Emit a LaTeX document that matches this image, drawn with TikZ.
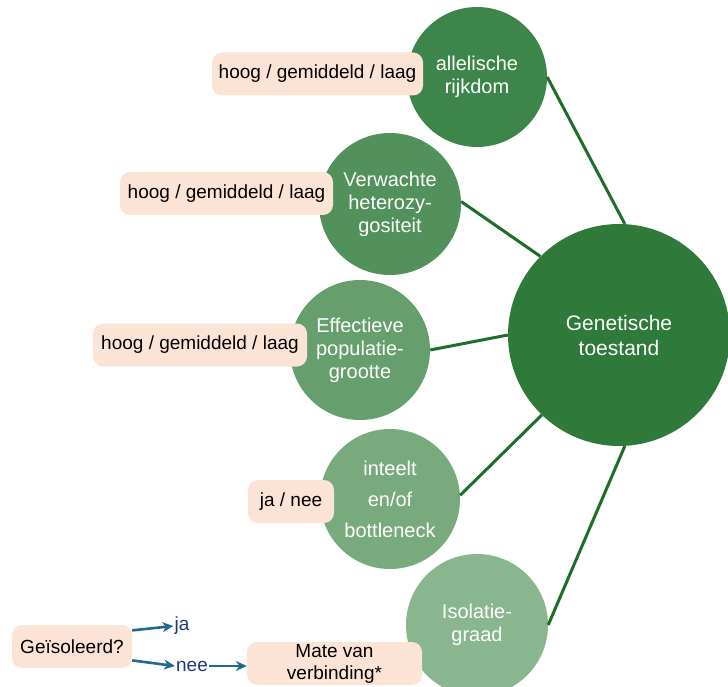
\documentclass[tikz,border=0pt]{standalone}
\usepackage{fontspec}
\setmainfont{Liberation Sans}
\usetikzlibrary{positioning, arrows.meta}

\definecolor{gendark}{RGB}{47,121,58}
\definecolor{genone}{RGB}{62,133,75}
\definecolor{gentwo}{RGB}{82,145,92}
\definecolor{genthree}{RGB}{103,158,110}
\definecolor{genfour}{RGB}{120,170,126}
\definecolor{genfive}{RGB}{138,182,143}
\definecolor{linkgreen}{RGB}{30,110,42}
\definecolor{peach}{RGB}{251,227,214}
\definecolor{arrowteal}{RGB}{31,105,140}
\definecolor{answerblue}{RGB}{32,56,120}

\begin{document}
\begin{tikzpicture}[
    x=1pt, y=-1pt,
    % Indicator circles
    indicator/.style={circle, minimum size=#1, inner sep=0pt, text=white, align=center,
        font=\fontsize{20}{23}\selectfont},
    % Score boxes
    scorebox/.style={rectangle, rounded corners=10pt, fill=peach, inner sep=0pt,
        minimum height=43pt, align=center, font=\fontsize{19}{22}\selectfont},
    % Connection style
    link/.style={line width=3pt, color=linkgreen},
    decision/.style={-{Stealth[length=11pt, width=10pt]}, line width=2.6pt, color=arrowteal},
    answer/.style={inner sep=1pt, text=answerblue, font=\fontsize{19}{22}\selectfont}
]
    \useasboundingbox (0,0) rectangle (728,687);

    % --- CENTRAL NODE ---
    \node[indicator=222pt, fill=gendark, font=\fontsize{21}{25}\selectfont] (gen) at (619,335) {Genetische\\toestand};

    % --- INDICATORS ---
    \node[indicator=140pt, fill=genone] (allel) at (477,77) {allelische\\rijkdom};
    \node[indicator=142pt, fill=gentwo] (hetero) at (390,204) {Verwachte\\heterozy-\\gositeit};
    \node[indicator=140pt, fill=genthree] (popul) at (360,350) {Effectieve\\populatie-\\grootte};
    \node[indicator=140pt, fill=genfour, font=\fontsize{20}{31}\selectfont] (inteelt) at (390,499) {inteelt\\en/of\\bottleneck};
    \node[indicator=142pt, fill=genfive] (isol) at (477,625) {Isolatie-\\graad};

    % Connections indicators -> central node
    \draw[link] (allel.east) -- (gen.87);
    \draw[link] (hetero.2) -- (gen.135);
    \draw[link] (popul.east) -- (gen.180);
    \draw[link] (inteelt.3) -- (gen.226);
    \draw[link] (isol.east) -- (gen.273);

    % --- SCORE BOXES ---
    \node[scorebox, minimum width=211pt] (allelscore) at (317.5,74) {hoog / gemiddeld / laag};
    \node[scorebox, minimum width=213pt] (heteroscore) at (226.5,193.5) {hoog / gemiddeld / laag};
    \node[scorebox, minimum width=214pt] (populscore) at (200,345) {hoog / gemiddeld / laag};
    \node[scorebox, minimum width=86pt] (inteeltscore) at (291,501.5) {ja / nee};

    % --- ISOLATION DECISION ---
    \node[scorebox, minimum width=120pt] (geis) at (72,646.5) {Geïsoleerd?};
    \node[answer] (ja) at (182,626) {ja};
    \node[answer] (nee) at (192,666) {nee};
    \node[scorebox, minimum width=175pt] (mate) at (334.5,663.5) {Mate van\\verbinding*};

    \draw[decision] (geis.15) -- (ja.west);
    \draw[decision] (geis.-13) -- (nee.west);
    \draw[decision] (nee.east) -- (nee.east -| mate.west);

\end{tikzpicture}
\end{document}
